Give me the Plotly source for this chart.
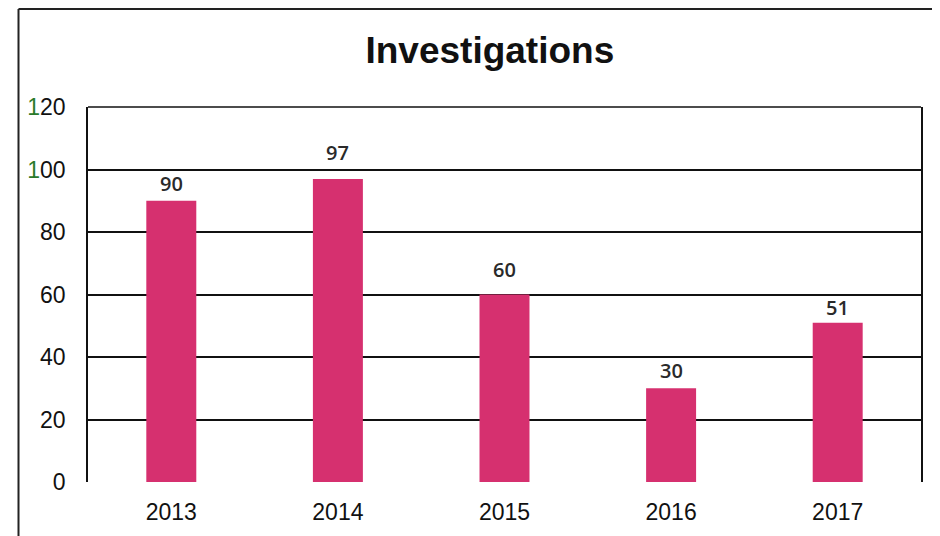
import plotly.graph_objects as go

years = ["2013", "2014", "2015", "2016", "2017"]
investigations = [90, 97, 60, 30, 51]
label_lift = [2, 11, 10, 2, 0]  # pixel offsets of the value labels above bar tops
y_ticks = [0, 20, 40, 60, 80, 100, 120]
y_tick_labels = ["0", "20", "40", "60", "80",
                 "<span style='color:#2a7a2a'>1</span>00",
                 "<span style='color:#2a7a2a'>1</span>20"]

W, H = 932, 528
L, R, T, B = 80, 19, 99, 54
pw, ph = W - L - R, H - T - B
fx = (10.5 - L) / pw
fy = (H - B - 1) / ph

fig = go.Figure()
fig.add_trace(go.Bar(
    x=years, y=investigations,
    marker=dict(color="#D6306F", line=dict(width=0)),
))

annotations = [
    dict(x=i, y=v, xref="x", yref="y", text=str(v), showarrow=False,
         yanchor="bottom", yshift=s,
         font=dict(family="Open Sans, Liberation Sans, sans-serif", size=20,
                   color="#2a2a2a", weight=600))
    for i, (v, s) in enumerate(zip(investigations, label_lift))
]

fig.update_layout(
    width=W, height=H,
    margin=dict(l=L, r=R, t=T, b=B),
    paper_bgcolor="white", plot_bgcolor="white",
    bargap=0.7,
    showlegend=False,
    title=dict(text="<b>Investigations</b>", x=0.517, xanchor="center",
               y=0.920, yanchor="middle",
               font=dict(family="Liberation Sans, Arial, sans-serif", size=37, color="#111111")),
    font=dict(family="Liberation Sans, Arial, sans-serif", size=23, color="#111111"),
    annotations=annotations,
    shapes=[
        dict(type="line", xref="paper", yref="paper", x0=fx, x1=1.05, y0=fy, y1=fy,
             line=dict(color="#222222", width=2)),
        dict(type="line", xref="paper", yref="paper", x0=fx, x1=fx, y0=fy, y1=-0.2,
             line=dict(color="#222222", width=2)),
        dict(type="line", xref="paper", yref="paper", x0=0, x1=1, y0=1, y1=1,
             line=dict(color="#111111", width=1.6)),
    ],
)

fig.update_xaxes(type="category", range=[-0.5, len(years) - 0.5],
                 showgrid=False, showline=False, zeroline=False, ticks="",
                 tickfont=dict(size=23, color="#111111"), ticklabelstandoff=14)
fig.update_yaxes(range=[0, 120], tickvals=y_ticks, ticktext=y_tick_labels,
                 showgrid=True, gridcolor="#111111", gridwidth=1.6,
                 zeroline=True, zerolinecolor="rgba(0,0,0,0)", zerolinewidth=1,
                 showline=True, mirror=True, linecolor="#111111", linewidth=1.6,
                 ticks="", ticklabelstandoff=16,
                 tickfont=dict(size=23, color="#111111"))

fig.write_html("out.html")
